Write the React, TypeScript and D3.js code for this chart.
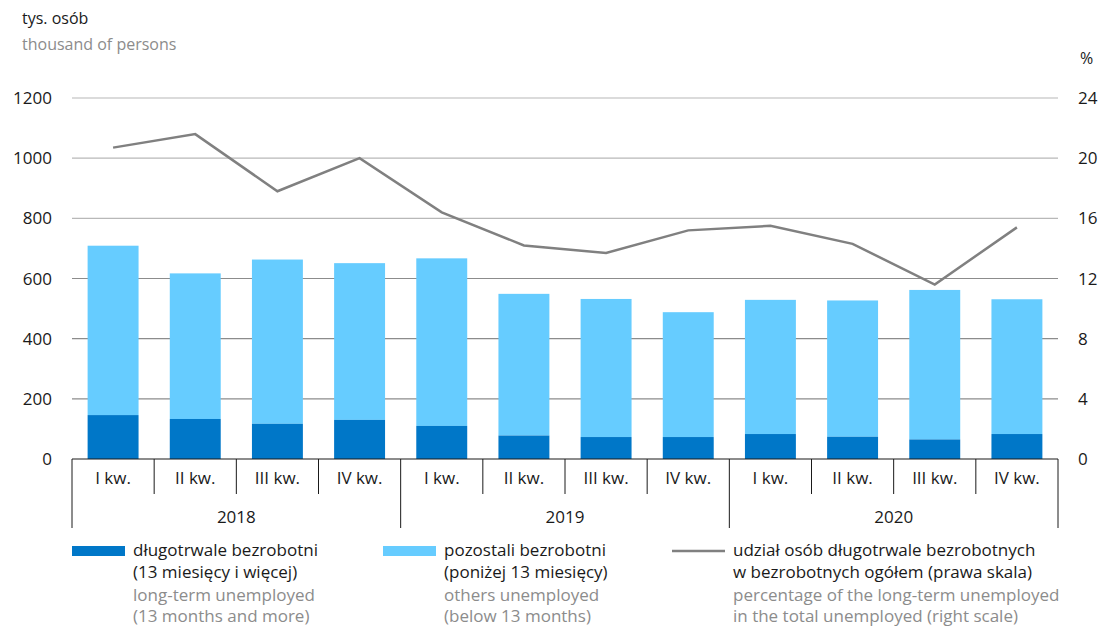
import React from "react";
import * as d3 from "d3";

const quarters = ["I kw.", "II kw.", "III kw.", "IV kw.", "I kw.", "II kw.", "III kw.", "IV kw.", "I kw.", "II kw.", "III kw.", "IV kw."];
const years = ["2018", "2019", "2020"];
const longTerm = [146, 133, 117, 130, 110, 78, 73, 73, 83, 74, 65, 83];
const totalUnemployed = [709, 617, 663, 651, 667, 549, 532, 488, 529, 527, 562, 531];
const sharePct = [20.7, 21.6, 17.8, 20.0, 16.4, 14.2, 13.7, 15.2, 15.5, 14.3, 11.6, 15.4];
const leftTicks = [0, 200, 400, 600, 800, 1000, 1200];
const rightTicks = [0, 4, 8, 12, 16, 20, 24];

const W = 1109;
const H = 628;
const X0 = 72;
const X1 = 1058;
const Y0 = 459;
const Y1 = 98;
const FONT = "'Open Sans', sans-serif";
const DARK = "#0077c8";
const LIGHT = "#66ccff";
const LINE = "#808080";
const GREYTXT = "#8c8c8c";

export default function App() {
  const idx = quarters.map((_, i) => i);
  const x = d3.scaleBand<number>().domain(idx).range([X0, X1]).paddingInner(0).paddingOuter(0);
  const bw = x.bandwidth() * 0.62;
  const yL = d3.scaleLinear().domain([0, 1200]).range([Y0, Y1]);
  const yR = d3.scaleLinear().domain([0, 24]).range([Y0, Y1]);
  const lineGen = d3
    .line<number>()
    .x((_, i) => (x(i) as number) + x.bandwidth() / 2)
    .y((d) => yR(d));

  const yearW = x.bandwidth() * 4;

  return (
    <div style={{ position: "absolute", left: 0, top: 0 }}>
      <svg width={W} height={H} style={{ display: "block", fontFamily: FONT }}>
        <rect width={W} height={H} fill="#fff" />
        <text x={22} y={24} fontSize={16} fill="#1a1a1a">tys. osób</text>
        <text x={22} y={50} fontSize={16} fill={GREYTXT}>thousand of persons</text>
        <text x={1080} y={64} fontSize={16} fill="#1a1a1a">%</text>

        {leftTicks.map((t) => (
          <g key={t}>
            {t > 0 && (
              <line x1={X0} x2={X1} y1={yL(t)} y2={yL(t)} stroke={t >= 800 ? "#b8b8b8" : "#8c8c8c"} strokeWidth={1.2} />
            )}
            <text x={52} y={yL(t) + 6} fontSize={17} textAnchor="end" fill="#1a1a1a">{t}</text>
          </g>
        ))}
        {rightTicks.map((t) => (
          <text key={t} x={1078} y={yR(t) + 6} fontSize={17} fill="#1a1a1a">{t}</text>
        ))}

        {idx.map((i) => {
          const cx = (x(i) as number) + x.bandwidth() / 2;
          return (
            <g key={i}>
              <rect x={cx - bw / 2} y={yL(totalUnemployed[i])} width={bw} height={yL(longTerm[i]) - yL(totalUnemployed[i])} fill={LIGHT} />
              <rect x={cx - bw / 2} y={yL(longTerm[i])} width={bw} height={Y0 - yL(longTerm[i])} fill={DARK} />
            </g>
          );
        })}

        <path d={lineGen(sharePct) || ""} fill="none" stroke={LINE} strokeWidth={2.5} strokeLinejoin="miter" />

        <line x1={X0} x2={X1} y1={Y0} y2={Y0} stroke="#1a1a1a" strokeWidth={1.2} />
        {d3.range(13).map((k) => {
          const xx = X0 + k * x.bandwidth();
          const isYear = k % 4 === 0;
          return <line key={k} x1={xx} x2={xx} y1={Y0} y2={isYear ? 528 : 494} stroke="#1a1a1a" strokeWidth={1} />;
        })}
        {idx.map((i) => (
          <text key={i} x={(x(i) as number) + x.bandwidth() / 2} y={484} fontSize={17} textAnchor="middle" fill="#1a1a1a">{quarters[i]}</text>
        ))}
        {years.map((yr, j) => (
          <text key={yr} x={X0 + j * yearW + yearW / 2} y={523} fontSize={17} textAnchor="middle" fill="#1a1a1a">{yr}</text>
        ))}

        <rect x={72} y={546} width={53} height={10} fill={DARK} />
        <text x={133} y={556} fontSize={17} fill="#1a1a1a">długotrwale bezrobotni</text>
        <text x={133} y={578} fontSize={17} fill="#1a1a1a">(13 miesięcy i więcej)</text>
        <text x={133} y={601} fontSize={17} fill={GREYTXT}>long-term unemployed</text>
        <text x={133} y={622} fontSize={17} fill={GREYTXT}>(13 months and more)</text>

        <rect x={383} y={546} width={53} height={10} fill={LIGHT} />
        <text x={444} y={556} fontSize={17} fill="#1a1a1a">pozostali bezrobotni</text>
        <text x={444} y={578} fontSize={17} fill="#1a1a1a">(poniżej 13 miesięcy)</text>
        <text x={444} y={601} fontSize={17} fill={GREYTXT}>others unemployed</text>
        <text x={444} y={622} fontSize={17} fill={GREYTXT}>(below 13 months)</text>

        <line x1={672} x2={725} y1={551} y2={551} stroke={LINE} strokeWidth={2.5} />
        <text x={733} y={556} fontSize={17} fill="#1a1a1a">udział osób długotrwale bezrobotnych</text>
        <text x={733} y={578} fontSize={17} fill="#1a1a1a">w bezrobotnych ogółem (prawa skala)</text>
        <text x={733} y={601} fontSize={17} fill={GREYTXT}>percentage of the long-term unemployed</text>
        <text x={733} y={622} fontSize={17} fill={GREYTXT}>in the total unemployed (right scale)</text>
      </svg>
    </div>
  );
}
